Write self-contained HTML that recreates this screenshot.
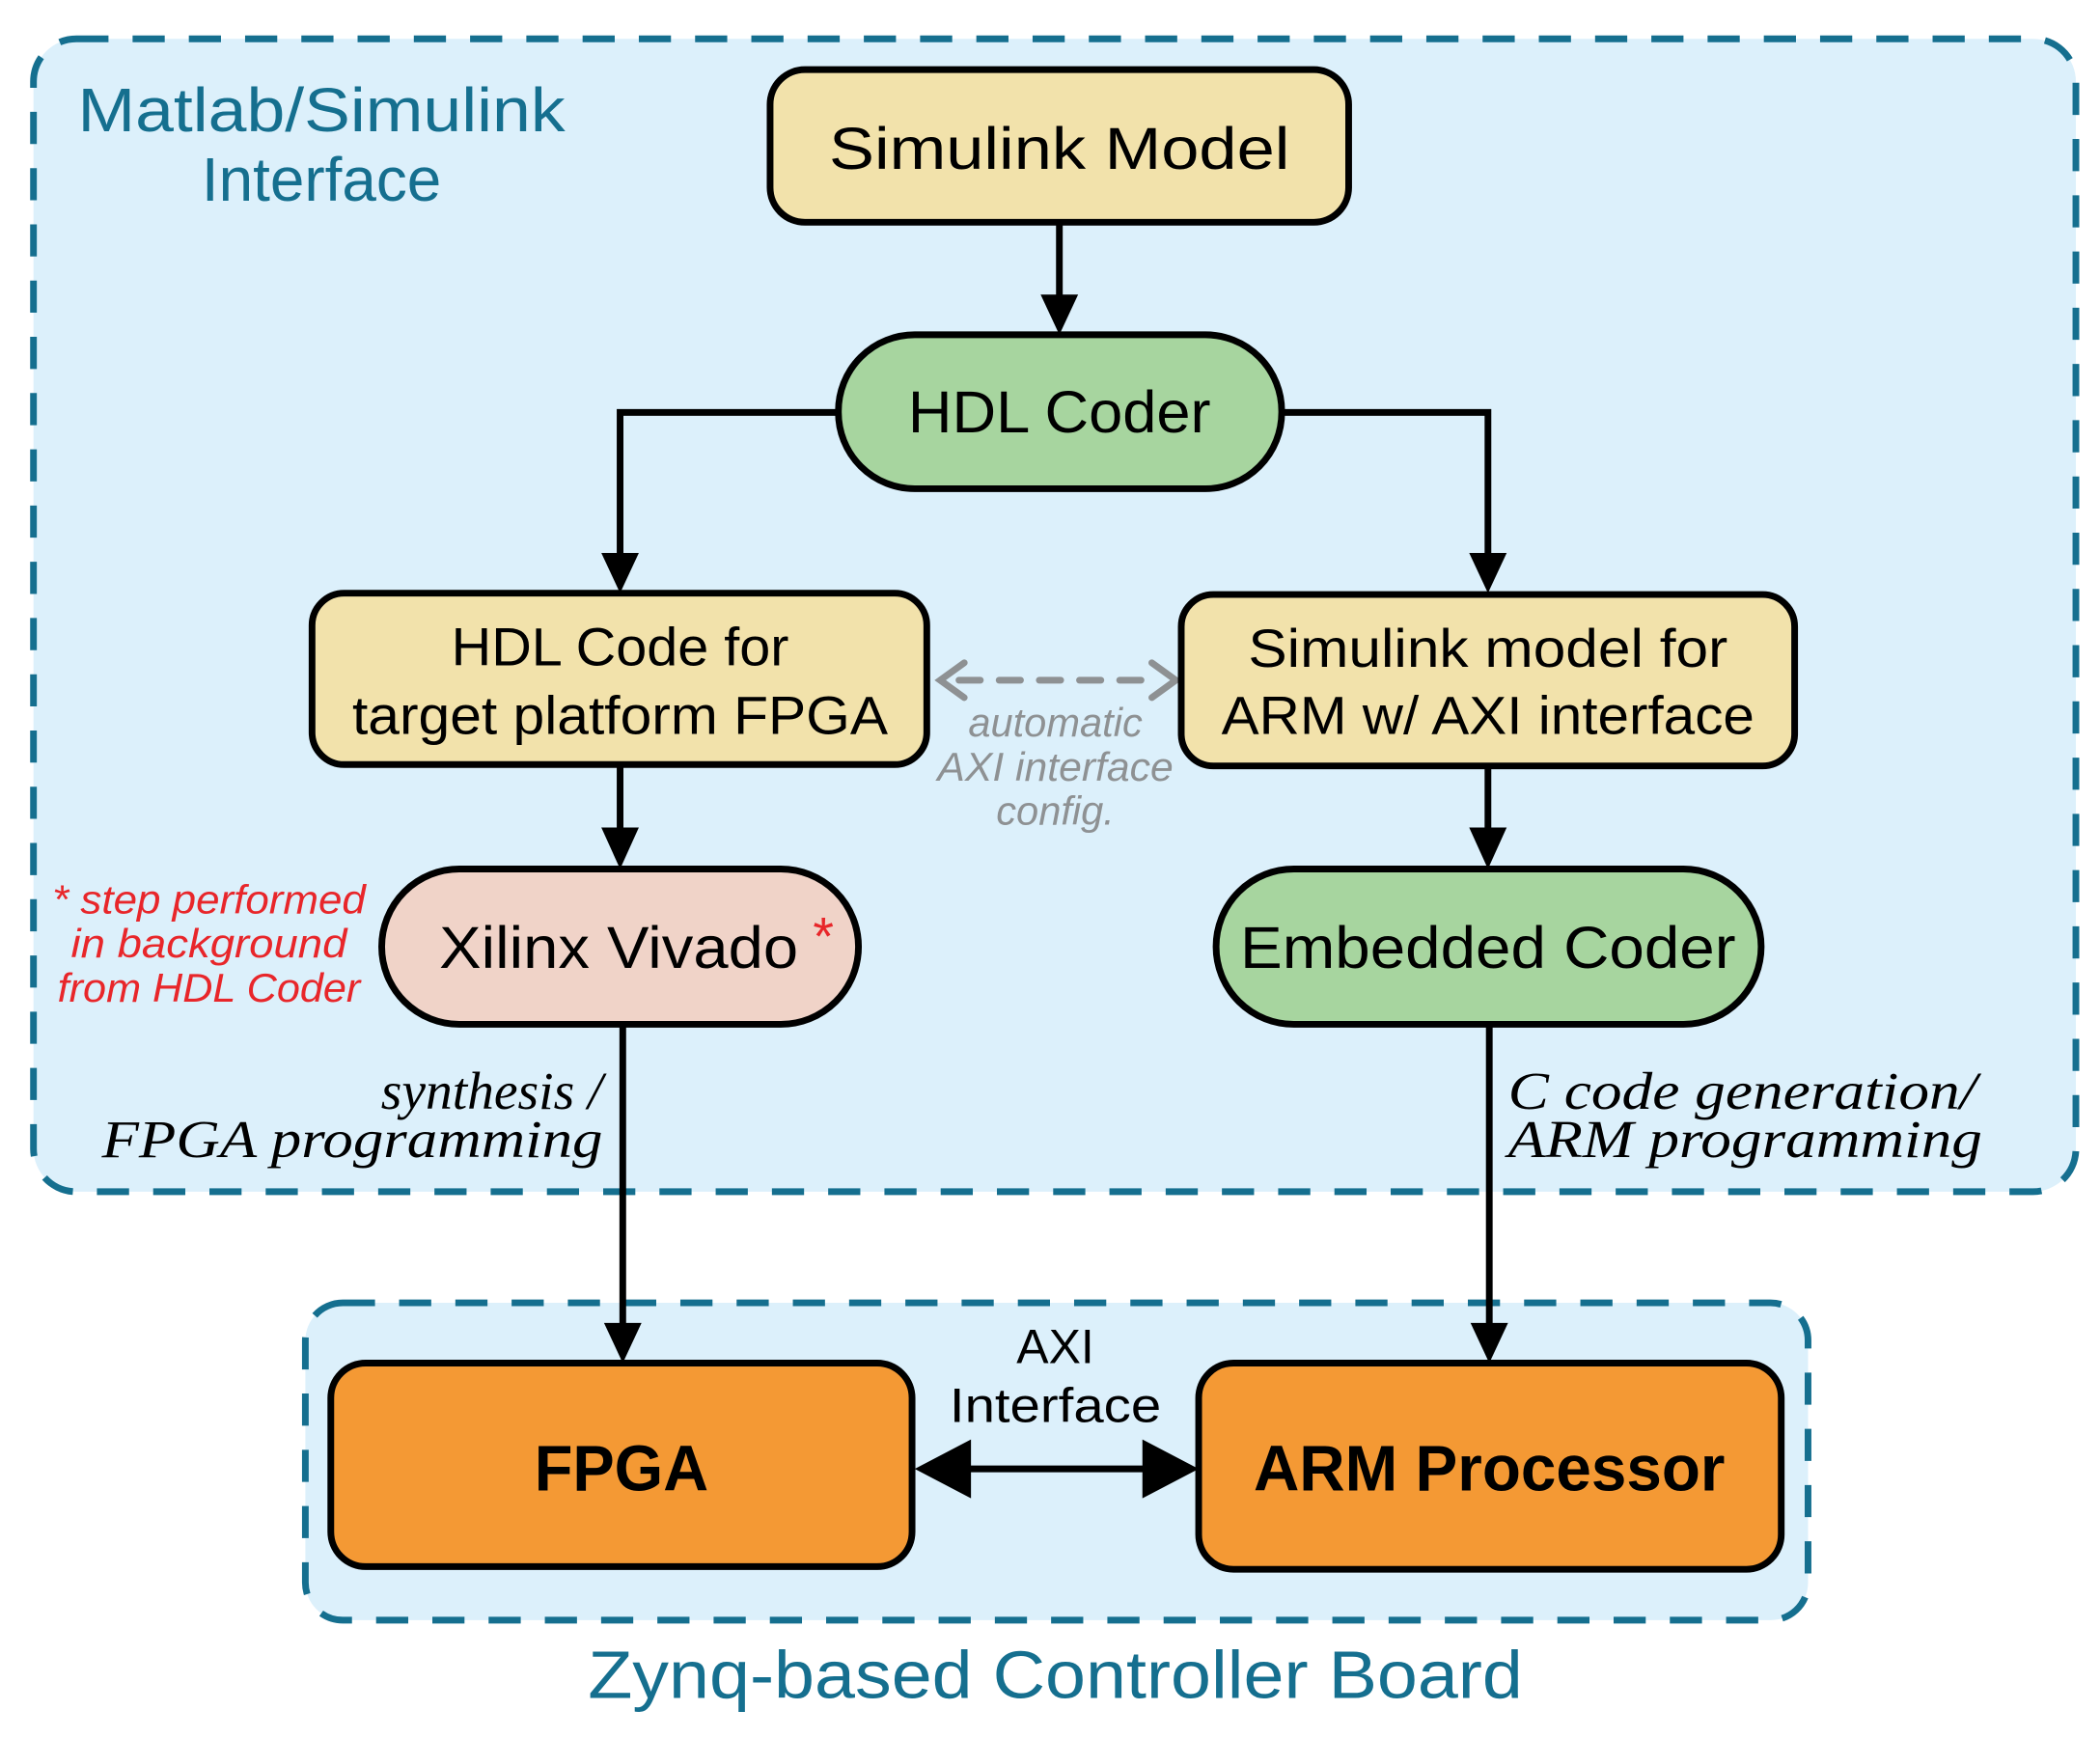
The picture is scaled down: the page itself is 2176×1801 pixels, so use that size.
<!DOCTYPE html>
<html><head><meta charset="utf-8"><style>html,body{margin:0;padding:0;background:#fff}svg{display:block}</style></head>
<body>
<svg width="2176" height="1801" viewBox="0 0 1568 1298" preserveAspectRatio="none" xmlns="http://www.w3.org/2000/svg" font-family="Liberation Sans, sans-serif">
<defs>
<marker id="ah" markerWidth="10" markerHeight="10" refX="9" refY="5" orient="auto" markerUnits="userSpaceOnUse" viewBox="0 0 10 10"><path d="M0,0 L10,5 L0,10 z" fill="#000"/></marker>
</defs>
<rect x="25" y="29" width="1525" height="861" rx="32" fill="#dcf0fb" stroke="#156f8f" stroke-width="5" stroke-dasharray="24,18"/>
<rect x="228" y="973" width="1122" height="237" rx="28" fill="#dcf0fb" stroke="#156f8f" stroke-width="5" stroke-dasharray="24,18"/>
<text x="240" y="98" font-size="46" fill="#156f8f" text-anchor="middle" textLength="364" lengthAdjust="spacingAndGlyphs">Matlab/Simulink</text>
<text x="240" y="150" font-size="46" fill="#156f8f" text-anchor="middle">Interface</text>
<text x="788" y="1268" font-size="50" fill="#156f8f" text-anchor="middle" textLength="698" lengthAdjust="spacingAndGlyphs">Zynq-based Controller Board</text>
<g stroke="#000" stroke-width="5" fill="none">
<path d="M791,166 V222"/>
<path d="M626,308 H463 V415"/>
<path d="M957,308 H1111 V415"/>
<path d="M463,571 V620"/>
<path d="M1111,572 V620"/>
<path d="M465,765 V990"/>
<path d="M1112,765 V990"/>
<path d="M715,1097 H860"/>
</g>
<g fill="#000">
<path d="M777,220 L805,220 L791,250 z"/>
<path d="M449,413 L477,413 L463,443 z"/>
<path d="M1097,413 L1125,413 L1111,443 z"/>
<path d="M449,618 L477,618 L463,649 z"/>
<path d="M1097,618 L1125,618 L1111,649 z"/>
<path d="M451,988 L479,988 L465,1018 z"/>
<path d="M1098,988 L1126,988 L1112,1018 z"/>
<path d="M683,1097 L725,1075 L725,1119 z"/>
<path d="M895,1097 L853,1075 L853,1119 z"/>
</g>
<g stroke="#8e9193" stroke-width="5" fill="none" stroke-linecap="round">
<path d="M716,508 H860" stroke-dasharray="16,14"/>
<path d="M720,495 L702,508 L720,521"/>
<path d="M860,495 L878,508 L860,521"/>
</g>
<g font-style="italic" font-size="30" fill="#8e9193" text-anchor="middle">
<text x="788" y="550">automatic</text>
<text x="788" y="583" textLength="176" lengthAdjust="spacingAndGlyphs">AXI interface</text>
<text x="788" y="616">config.</text>
</g>
<g stroke="#000" stroke-width="5">
<rect x="575" y="52" width="432" height="114" rx="26" fill="#f2e2ab"/>
<rect x="626" y="250" width="331" height="115" rx="57" fill="#a7d59f"/>
<rect x="233" y="443" width="459" height="128" rx="24" fill="#f2e2ab"/>
<rect x="882" y="444" width="458" height="128" rx="24" fill="#f2e2ab"/>
<rect x="285" y="649" width="356" height="116" rx="58" fill="#f0d3c8"/>
<rect x="908" y="649" width="407" height="116" rx="58" fill="#a7d59f"/>
<rect x="247" y="1018" width="434" height="152" rx="26" fill="#f49934"/>
<rect x="895" y="1018" width="435" height="154" rx="26" fill="#f49934"/>
</g>
<g font-size="44" fill="#000" text-anchor="middle">
<text x="791" y="126" textLength="344" lengthAdjust="spacingAndGlyphs">Simulink Model</text>
<text x="791" y="323" textLength="226" lengthAdjust="spacingAndGlyphs">HDL Coder</text>
<text x="463" y="497" font-size="40" textLength="252" lengthAdjust="spacingAndGlyphs">HDL Code for</text>
<text x="463" y="548" font-size="40" textLength="400" lengthAdjust="spacingAndGlyphs">target platform FPGA</text>
<text x="1111" y="498" font-size="40" textLength="358" lengthAdjust="spacingAndGlyphs">Simulink model for</text>
<text x="1111" y="548" font-size="40" textLength="398" lengthAdjust="spacingAndGlyphs">ARM w/ AXI interface</text>
<text x="462" y="723" textLength="268" lengthAdjust="spacingAndGlyphs">Xilinx Vivado</text>
<text x="1111" y="723" textLength="370" lengthAdjust="spacingAndGlyphs">Embedded Coder</text>
<text x="464" y="1113" font-size="48" font-weight="bold" textLength="130" lengthAdjust="spacingAndGlyphs">FPGA</text>
<text x="1112" y="1113" font-size="48" font-weight="bold" textLength="352" lengthAdjust="spacingAndGlyphs">ARM Processor</text>
<text x="788" y="1018" font-size="36">AXI</text>
<text x="788" y="1062" font-size="36" textLength="158" lengthAdjust="spacingAndGlyphs">Interface</text>
</g>
<text x="607" y="713" font-size="40" fill="#e8262a">*</text>
<g font-style="italic" font-size="30" fill="#e8262a" text-anchor="middle">
<text x="156" y="682" textLength="234" lengthAdjust="spacingAndGlyphs">* step performed</text>
<text x="156" y="715" textLength="206" lengthAdjust="spacingAndGlyphs">in background</text>
<text x="156" y="748" textLength="226" lengthAdjust="spacingAndGlyphs">from HDL Coder</text>
</g>
<g font-family="Liberation Serif, serif" font-style="italic" font-size="40" fill="#000">
<text x="450" y="828" text-anchor="end">synthesis /</text>
<text x="450" y="864" text-anchor="end" textLength="374" lengthAdjust="spacingAndGlyphs">FPGA programming</text>
<text x="1126" y="828" textLength="350" lengthAdjust="spacingAndGlyphs">C code generation/</text>
<text x="1126" y="864" textLength="354" lengthAdjust="spacingAndGlyphs">ARM programming</text>
</g>
</svg>
</body></html>
